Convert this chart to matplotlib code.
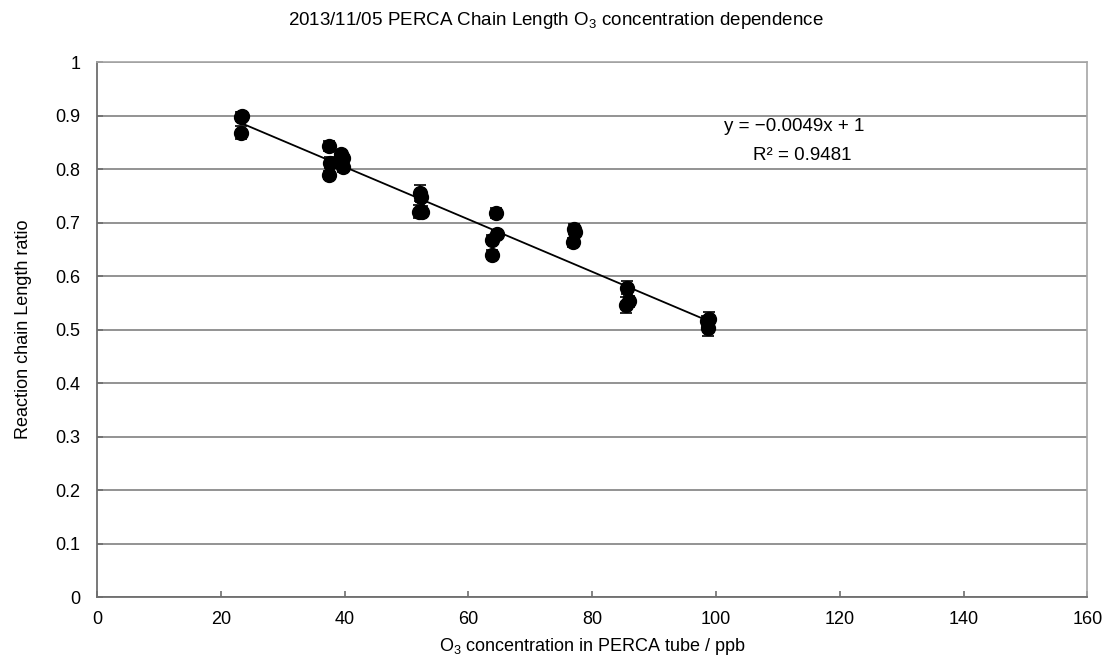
import numpy as np
import matplotlib
matplotlib.use("Agg")
from matplotlib import pyplot as plt

plt.rcParams['font.family'] = ['Liberation Sans', 'DejaVu Sans']
plt.rcParams['mathtext.fontset'] = 'custom'
plt.rcParams['mathtext.rm'] = 'Liberation Sans'

# O3 concentration (ppb) and chain length ratio with error bars
o3_ppb = [23.3, 23.3, 23.5,
          37.5, 37.6, 37.5,
          39.5, 39.8, 39.7, 39.4,
          52.2, 52.4, 52.0, 52.5,
          64.5, 64.7, 63.9, 63.8,
          77.0, 77.2, 76.9,
          85.6, 85.9, 85.5,
          98.8, 98.6, 98.7]
ratio = [0.898, 0.868, 0.900,
         0.843, 0.812, 0.789,
         0.828, 0.820, 0.803, 0.822,
         0.755, 0.748, 0.720, 0.720,
         0.718, 0.678, 0.668, 0.640,
         0.688, 0.682, 0.663,
         0.578, 0.553, 0.545,
         0.520, 0.515, 0.503]
ratio_err = [0.008, 0.012, 0.006,
             0.010, 0.010, 0.008,
             0.008, 0.008, 0.008, 0.008,
             0.015, 0.010, 0.012, 0.010,
             0.010, 0.008, 0.008, 0.008,
             0.010, 0.008, 0.008,
             0.012, 0.010, 0.015,
             0.012, 0.010, 0.015]

slope = -0.0049
intercept = 1.0
r2 = 0.9481

fig = plt.figure(figsize=(11.12, 6.69), dpi=100)
ax = fig.add_axes([0.0872, 0.1076, 0.8906, 0.7997])

ax.errorbar(o3_ppb, ratio, yerr=ratio_err, fmt='o', color='black',
            markersize=10, ecolor='black', elinewidth=1.2, capsize=4,
            capthick=1.2, zorder=3)

fit_x = np.array([min(o3_ppb), max(o3_ppb)])
ax.plot(fit_x, slope * fit_x + intercept, color='black', lw=1.3, zorder=2)

ax.text(112.7, 0.879, "y = \u22120.0049x + 1", fontsize=13.5,
        ha='center', va='center')
ax.text(114.0, 0.826, f"R\u00b2 = {r2}", fontsize=13.5,
        ha='center', va='center')

ax.set_xlim(0, 160)
ax.set_ylim(0, 1)
ax.set_xticks(np.arange(0, 161, 20))
ax.set_yticks(np.arange(0, 1.01, 0.1))
ax.set_yticklabels(['0', '0.1', '0.2', '0.3', '0.4', '0.5', '0.6', '0.7',
                    '0.8', '0.9', '1'])
ax.yaxis.grid(True, color='#808080', lw=1.2)
ax.set_axisbelow(True)
ax.tick_params(labelsize=13, direction='in', length=4, color='#6e6e6e',
               width=1.2)
ax.tick_params(axis='x', pad=10)
ax.tick_params(axis='y', pad=12)
for side in ['top', 'right']:
    ax.spines[side].set_color('#a6a6a6')
    ax.spines[side].set_linewidth(1.2)
for side in ['bottom', 'left']:
    ax.spines[side].set_color('#6e6e6e')
    ax.spines[side].set_linewidth(1.3)

ax.set_xlabel('O$_3$ concentration in PERCA tube / ppb', fontsize=13,
              labelpad=6)
ax.set_ylabel('Reaction chain Length ratio', fontsize=13, labelpad=17)
fig.suptitle('2013/11/05 PERCA Chain Length O$_3$ concentration dependence',
             fontsize=13.5, y=0.985)

fig.savefig('out.png', dpi=100)
